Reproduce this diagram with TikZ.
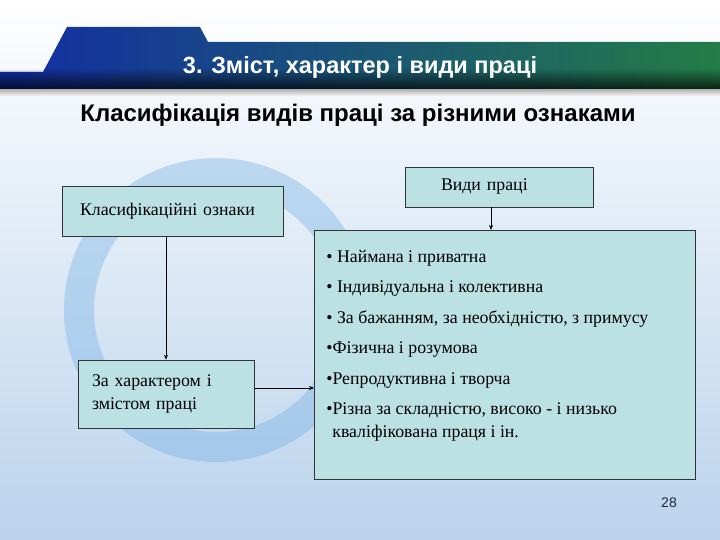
\documentclass[tikz,border=0pt]{standalone}
\usepackage{fontspec}
\setmainfont{Liberation Serif}
\newfontfamily\headfont{Liberation Sans}
\usetikzlibrary{arrows.meta,fadings}

\definecolor{boxfill}{RGB}{187,225,227}
\definecolor{bgblue}{RGB}{186,211,236}
\definecolor{ringblue}{RGB}{105,170,226}
\definecolor{bandblue}{RGB}{18,45,165}
\definecolor{bandmid}{RGB}{20,85,140}
\definecolor{bandgreen}{RGB}{35,125,70}
\definecolor{numcol}{RGB}{30,40,60}

\begin{document}
\begin{tikzpicture}[x=1pt,y=-1pt,
	box/.style={draw=black!80,fill=boxfill,line width=0.7pt,font=\fontsize{17.8}{23}\selectfont},
	arr/.style={-{Stealth[length=5pt,width=4pt]},line width=0.6pt}]
	\useasboundingbox (0,0) rectangle (720,540);
	% background and ring
	\shade[top color=white,middle color=bgblue!45,bottom color=bgblue] (0,0) rectangle (720,540);
	\draw[ringblue,opacity=0.35,line width=30pt] (216,310) circle[radius=137pt];
	% title band
	\shade[left color=bandblue,middle color=bandmid,right color=bandgreen] (0,72) -- (43,72) -- (67,27) -- (200,27) -- (208,42) -- (720,42) -- (720,90) -- (0,90) -- cycle;
	\fill[black,opacity=0.75,path fading=north] (0,68) rectangle (720,90);
	\shade[top color=gray!55,bottom color=white] (0,90) rectangle (720,97);
	\node[font=\headfont\bfseries\fontsize{23.5}{26}\selectfont,text=white] (title) at (360,67) {3. Зміст, характер і види праці};
	\node[font=\headfont\bfseries\fontsize{24}{28}\selectfont] (subtitle) at (358,115) {Класифікація видів праці за різними ознаками};
	% boxes
	\node[box,align=left,minimum height=50pt,text width=185pt,inner xsep=18pt] (signs) at (172.5,211) {Класифікаційні ознаки};
	\node[box,align=left,minimum height=40pt,text width=116pt,inner xsep=36pt] (kinds) at (499,187) {Види праці};
	\node[box,align=left,minimum height=68pt,text width=148pt,inner xsep=14pt] (character) at (166,394) {За характером і\\змістом праці};
	\node[box,inner xsep=12pt,inner ysep=0pt,anchor=north west] (list) at (314,230) {\begin{minipage}[t][249pt][t]{357pt}\raggedright
		\rule{0pt}{32pt}• Наймана і приватна\\[7.5pt]
		• Індивідуальна і колективна\\[7.5pt]
		• За бажанням, за необхідністю, з примусу\\[7.5pt]
		•Фізична і розумова\\[7.5pt]
		•Репродуктивна і творча\\[7.5pt]
		•Різна за складністю, високо - і низько\\
		\hspace*{6pt}кваліфікована праця і ін.
	\end{minipage}};
	% connectors
	\draw[arr] (signs.south -| character.north) -- (character.north);
	\draw[arr] ([xshift=-8pt]kinds.south) -- ([xshift=-8pt]kinds.south |- list.north);
	\draw[arr] ([yshift=6pt]character.east) -- ([yshift=6pt]character.east -| list.west);
	\node[font=\headfont\fontsize{14}{16}\selectfont,text=numcol] (page) at (669,503) {28};
\end{tikzpicture}
\end{document}
